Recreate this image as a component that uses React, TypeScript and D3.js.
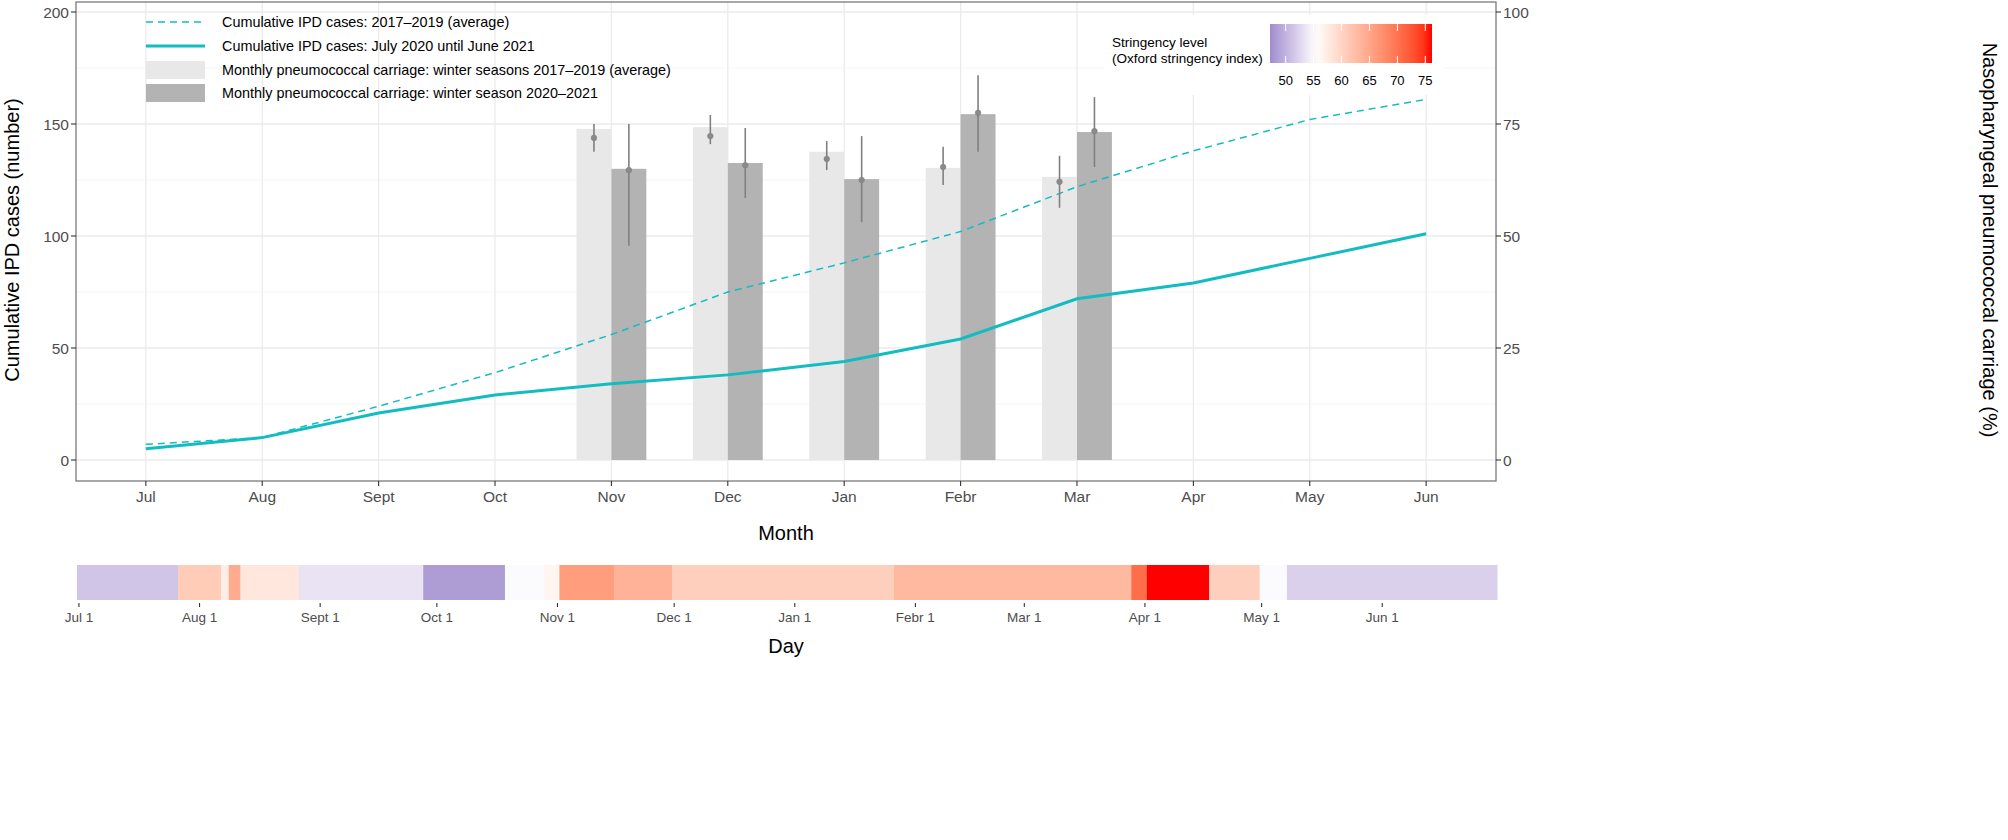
import React from "react";
import * as d3 from "d3";

// monthly cumulative IPD cases
const months = ["Jul", "Aug", "Sept", "Oct", "Nov", "Dec", "Jan", "Febr", "Mar", "Apr", "May", "Jun"];
const ipdAverage = [7, 10, 24, 39, 56, 75, 88, 102, 122, 138, 152, 161];
const ipd2020 = [5, 10, 21, 29, 34, 38, 44, 54, 72, 79, 90, 101];

// pneumococcal carriage (%), winter months
const carriageMonths = ["Nov", "Dec", "Jan", "Febr", "Mar"];
const carriageAvgBar = [73.9, 74.3, 68.8, 65.2, 63.2];
const carriageAvgPoint = [71.9, 72.3, 67.2, 65.4, 62.1];
const carriageAvgLow = [68.8, 70.5, 64.7, 61.4, 56.3];
const carriageAvgHigh = [75.0, 77.0, 71.2, 69.9, 67.9];
const carriage2020Bar = [65.0, 66.3, 62.7, 77.2, 73.2];
const carriage2020Point = [64.7, 65.8, 62.5, 77.5, 73.4];
const carriage2020Low = [47.8, 58.5, 53.1, 68.8, 65.4];
const carriage2020High = [75.0, 74.1, 72.3, 85.9, 81.0];

// Oxford stringency index, periods (start date, value)
const stringencyStart = [
  "2020-07-01", "2020-07-27", "2020-08-07", "2020-08-09", "2020-08-12", "2020-08-27",
  "2020-09-28", "2020-10-19", "2020-10-29", "2020-11-02", "2020-11-16", "2020-12-01",
  "2021-01-27", "2021-03-29", "2021-04-02", "2021-04-18", "2021-05-01", "2021-05-08",
];
const stringencyEnd = "2021-07-01";
const stringencyIndex = [51.3, 61.0, 57.2, 64.5, 58.0, 53.4, 48.4, 55.0, 56.4, 66.0, 63.8, 60.6, 63.0, 70.5, 76.2, 60.6, 55.0, 52.1];

const dayTicks = ["2020-07-01", "2020-08-01", "2020-09-01", "2020-10-01", "2020-11-01", "2020-12-01",
  "2021-01-01", "2021-02-01", "2021-03-01", "2021-04-01", "2021-05-01", "2021-06-01"];
const dayTickLabels = ["Jul 1", "Aug 1", "Sept 1", "Oct 1", "Nov 1", "Dec 1", "Jan 1", "Febr 1", "Mar 1", "Apr 1", "May 1", "Jun 1"];
const legendTicks = [50, 55, 60, 65, 70, 75];

const legendLabels = [
  "Cumulative IPD cases: 2017\u20132019 (average)",
  "Cumulative IPD cases: July 2020 until June 2021",
  "Monthly pneumococcal carriage: winter seasons 2017\u20132019 (average)",
  "Monthly pneumococcal carriage: winter season 2020\u20132021",
];

const FONT = "'Liberation Sans', Arial, Helvetica, sans-serif";
const TEAL = "#13bcc0";
const LIGHT = "#e8e8e8";
const DARK = "#b3b3b3";

const App: React.FC = () => {
  const width = 2008;
  const height = 840;
  const panel = { left: 76, right: 1496, top: 2, bottom: 481 };

  const x = d3.scalePoint<string>().domain(months).range([panel.left, panel.right]).padding(0.6);
  const step = x.step();
  const yCases = d3.scaleLinear().domain([0, 200]).range([460, 12]);
  const yPct = d3.scaleLinear().domain([0, 100]).range([460, 12]);

  const line = d3
    .line<number>()
    .x((_, i) => x(months[i])!)
    .y((d) => yCases(d));

  const parse = d3.utcParse("%Y-%m-%d");
  const half = 12 * 3600 * 1000;
  const xDay = d3
    .scaleUtc()
    .domain([new Date(parse("2020-07-01")!.getTime() - half), new Date(parse(stringencyEnd)!.getTime() - half)])
    .range([77, 1497]);

  const colorExtent = [47.2, 76.2];
  const color = d3
    .scaleLinear<string>()
    .domain([colorExtent[0], 55.3, colorExtent[1]])
    .range(["#a08ccd", "#ffffff", "#ff0000"])
    .interpolate(d3.interpolateLab);

  const cbX = d3.scaleLinear().domain(colorExtent).range([1270, 1432]);
  const cbStops = d3.range(0, 21).map((i) => colorExtent[0] + ((colorExtent[1] - colorExtent[0]) * i) / 20);

  const barW = step * 0.3;
  const stripTop = 565;
  const stripBottom = 600;

  return (
    <svg width={width} height={height} style={{ position: "absolute", left: 0, top: 0, fontFamily: FONT }}>
      <defs>
        <linearGradient id="cb" x1="0" x2="1" y1="0" y2="0">
          {cbStops.map((v, i) => (
            <stop key={i} offset={`${(i / 20) * 100}%`} stopColor={color(v)} />
          ))}
        </linearGradient>
      </defs>
      <rect x={0} y={0} width={width} height={height} fill="#fff" />

      {/* grid */}
      {[25, 75, 125, 175].map((v) => (
        <line key={`mn${v}`} x1={panel.left} x2={panel.right} y1={yCases(v)} y2={yCases(v)} stroke="#f3f3f3" strokeWidth={0.8} />
      ))}
      {[0, 50, 100, 150, 200].map((v) => (
        <line key={`mj${v}`} x1={panel.left} x2={panel.right} y1={yCases(v)} y2={yCases(v)} stroke="#ebebeb" strokeWidth={1.3} />
      ))}
      {months.map((m) => (
        <line key={`gx${m}`} x1={x(m)} x2={x(m)} y1={panel.top} y2={panel.bottom} stroke="#ebebeb" strokeWidth={1.3} />
      ))}

      {/* bars */}
      {carriageMonths.map((m, i) => (
        <g key={`bar${m}`}>
          <rect x={x(m)! - barW} y={yPct(carriageAvgBar[i])} width={barW} height={yPct(0) - yPct(carriageAvgBar[i])} fill={LIGHT} />
          <rect x={x(m)!} y={yPct(carriage2020Bar[i])} width={barW} height={yPct(0) - yPct(carriage2020Bar[i])} fill={DARK} />
        </g>
      ))}

      {/* lines */}
      <path d={line(ipdAverage)!} fill="none" stroke={TEAL} strokeWidth={1.5} strokeDasharray="7,5" />
      <path d={line(ipd2020)!} fill="none" stroke={TEAL} strokeWidth={3} />

      {/* error bars */}
      {carriageMonths.map((m, i) => {
        const xa = x(m)! - barW / 2;
        const xb = x(m)! + barW / 2;
        return (
          <g key={`err${m}`} stroke="#808080" fill="#8a8a8a">
            <line x1={xa} x2={xa} y1={yPct(carriageAvgLow[i])} y2={yPct(carriageAvgHigh[i])} strokeWidth={1.6} />
            <circle cx={xa} cy={yPct(carriageAvgPoint[i])} r={2.8} strokeWidth={0.6} />
            <line x1={xb} x2={xb} y1={yPct(carriage2020Low[i])} y2={yPct(carriage2020High[i])} strokeWidth={1.6} />
            <circle cx={xb} cy={yPct(carriage2020Point[i])} r={2.8} strokeWidth={0.6} />
          </g>
        );
      })}

      {/* legend (top left) */}
      <g fontSize={14.4} fill="#000">
        <line x1={146} x2={205} y1={22} y2={22} stroke={TEAL} strokeWidth={1.5} strokeDasharray="7,5" />
        <line x1={146} x2={205} y1={46} y2={46} stroke={TEAL} strokeWidth={3} />
        <rect x={146} y={61} width={59} height={18} fill={LIGHT} />
        <rect x={146} y={84} width={59} height={18} fill={DARK} />
        {legendLabels.map((t, i) => (
          <text key={t} x={222} y={[22, 46, 70, 93][i] + 5}>
            {t}
          </text>
        ))}
      </g>

      {/* stringency legend */}
      <g>
        <rect x={1104} y={15} width={340} height={80} fill="#fff" />
        <text x={1112} y={47} fontSize={13.5}>Stringency level</text>
        <text x={1112} y={63} fontSize={13.5}>(Oxford stringency index)</text>
        <rect x={1270} y={24} width={162} height={39} fill="url(#cb)" />
        {legendTicks.map((v) => (
          <g key={`lt${v}`}>
            <line x1={cbX(v)} x2={cbX(v)} y1={24} y2={31} stroke="#fff" strokeWidth={1} />
            <line x1={cbX(v)} x2={cbX(v)} y1={56} y2={63} stroke="#fff" strokeWidth={1} />
            <text x={cbX(v)} y={85} fontSize={13} textAnchor="middle" fill="#000">
              {v}
            </text>
          </g>
        ))}
      </g>

      {/* panel border */}
      <rect x={panel.left} y={panel.top} width={panel.right - panel.left} height={panel.bottom - panel.top} fill="none" stroke="#7a7a7a" strokeWidth={1.3} />

      {/* left axis */}
      {[0, 50, 100, 150, 200].map((v) => (
        <g key={`yl${v}`}>
          <line x1={panel.left - 5} x2={panel.left} y1={yCases(v)} y2={yCases(v)} stroke="#333" strokeWidth={1.1} />
          <text x={panel.left - 7} y={yCases(v) + 5.5} fontSize={15.5} textAnchor="end" fill="#4d4d4d">
            {v}
          </text>
        </g>
      ))}
      {/* right axis */}
      {[0, 25, 50, 75, 100].map((v) => (
        <g key={`yr${v}`}>
          <line x1={panel.right} x2={panel.right + 5} y1={yPct(v)} y2={yPct(v)} stroke="#333" strokeWidth={1.1} />
          <text x={panel.right + 7} y={yPct(v) + 5.5} fontSize={15.5} fill="#4d4d4d">
            {v}
          </text>
        </g>
      ))}
      {/* bottom axis */}
      {months.map((m) => (
        <g key={`xl${m}`}>
          <line x1={x(m)} x2={x(m)} y1={panel.bottom} y2={panel.bottom + 5} stroke="#333" strokeWidth={1.1} />
          <text x={x(m)} y={panel.bottom + 21} fontSize={15.5} textAnchor="middle" fill="#4d4d4d">
            {m}
          </text>
        </g>
      ))}

      {/* axis titles */}
      <text transform="translate(19,240) rotate(-90)" fontSize={20} textAnchor="middle">
        Cumulative IPD cases (number)
      </text>
      <text transform="translate(1983,240) rotate(90)" fontSize={20} textAnchor="middle">
        Nasopharyngeal pneumococcal carriage (%)
      </text>
      <text x={(panel.left + panel.right) / 2} y={540} fontSize={20} textAnchor="middle">
        Month
      </text>

      {/* stringency strip */}
      {stringencyStart.map((s, i) => {
        const a = xDay(new Date(parse(s)!.getTime() - half));
        const bDate = i < stringencyStart.length - 1 ? stringencyStart[i + 1] : stringencyEnd;
        const b = xDay(new Date(parse(bDate)!.getTime() - half));
        return <rect key={`st${s}`} x={a} y={stripTop} width={b - a + 0.5} height={stripBottom - stripTop} fill={color(stringencyIndex[i])} />;
      })}
      {dayTicks.map((d, i) => {
        const px = xDay(parse(d)!);
        return (
          <g key={`dt${d}`}>
            <line x1={px} x2={px} y1={stripBottom + 3} y2={stripBottom + 7} stroke="#333" strokeWidth={1.1} />
            <text x={px} y={stripBottom + 22} fontSize={13.5} textAnchor="middle" fill="#4d4d4d">
              {dayTickLabels[i]}
            </text>
          </g>
        );
      })}
      <text x={(panel.left + panel.right) / 2} y={653} fontSize={20} textAnchor="middle">
        Day
      </text>
    </svg>
  );
};

export default App;
